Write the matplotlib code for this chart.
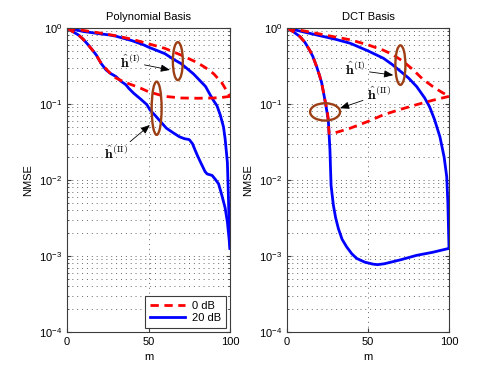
import numpy as np
import matplotlib
matplotlib.use('Agg')
import matplotlib.pyplot as plt
from matplotlib.patches import Ellipse

plt.rcParams['font.family'] = ['Liberation Sans', 'DejaVu Sans']
plt.rcParams['mathtext.fontset'] = 'cm'
plt.rcParams['font.size'] = 8

# ---- polynomial basis ----
poly_m_I0 = [0, 10, 20, 30, 40, 50, 60, 70, 80, 85, 90, 95, 100]
poly_I0 = [1.0, 0.93, 0.86, 0.79, 0.71, 0.62, 0.54, 0.44, 0.35, 0.30, 0.25, 0.19, 0.126]

poly_m_I20 = [0, 10, 20, 26, 30, 40, 47, 50, 60, 66, 70, 77.5, 80, 85, 88, 90, 92, 94, 96, 97, 98.4, 99, 99.5, 100]
poly_I20 = [1.0, 0.90, 0.84, 0.81, 0.78, 0.68, 0.60, 0.56, 0.46, 0.38, 0.34, 0.25, 0.22, 0.17,
            0.13, 0.11, 0.095, 0.072, 0.050, 0.035, 0.017, 0.0063, 0.0025, 0.00126]

poly_m_II20 = [0, 3, 7, 10, 13, 16, 18, 21, 24, 27, 30, 33, 36, 38, 41, 45, 49, 51, 54, 57, 61, 65,
               69, 72, 75, 77, 78.5, 80, 82, 84.7, 86, 89, 91, 93, 95, 97, 98.4, 99.3, 100]
poly_II20 = [1.0, 0.91, 0.81, 0.71, 0.60, 0.50, 0.44, 0.34, 0.28, 0.25, 0.23, 0.20, 0.18, 0.16,
             0.138, 0.117, 0.098, 0.083, 0.071, 0.060, 0.048, 0.042, 0.037, 0.035, 0.034, 0.030,
             0.025, 0.021, 0.017, 0.0129, 0.0120, 0.0115, 0.0102, 0.0089, 0.0063, 0.0043, 0.0028,
             0.0018, 0.00126]

poly_m_II0 = [0, 3, 7, 10, 13, 16, 18, 21, 24, 26, 30, 35, 40, 45, 50, 55, 60, 65, 70, 80, 90, 95, 100]
poly_II0 = [1.0, 0.91, 0.81, 0.71, 0.60, 0.50, 0.44, 0.34, 0.29, 0.26, 0.22, 0.195, 0.178, 0.162,
            0.145, 0.135, 0.126, 0.123, 0.120, 0.119, 0.120, 0.122, 0.126]

# ---- DCT basis ----
dct_m_I20 = [0, 10, 18.3, 30, 39, 50, 59.5, 65, 70, 75, 80, 85, 88, 91, 94.4, 97, 98.6, 99.3, 100]
dct_I20 = [1.0, 0.89, 0.81, 0.71, 0.63, 0.50, 0.40, 0.33, 0.27, 0.22, 0.17, 0.12, 0.092, 0.063,
           0.037, 0.020, 0.011, 0.0050, 0.00126]

dct_m_I0 = [0, 10, 18.3, 30, 39, 50, 59.5, 65, 72, 78, 84, 90, 95, 100]
dct_I0 = [1.0, 0.92, 0.85, 0.76, 0.70, 0.60, 0.51, 0.45, 0.36, 0.28, 0.21, 0.17, 0.145, 0.126]

dct_m_II20 = [0, 4, 8, 11, 14, 16, 18.3, 20, 21.4, 23.5, 25.5, 26.5, 27.2, 28.6, 30, 31.7, 34,
              36.8, 40, 43, 48, 53.3, 56, 60, 70, 80, 90, 100]
dct_II20 = [1.0, 0.89, 0.77, 0.65, 0.51, 0.42, 0.31, 0.24, 0.19, 0.11, 0.062, 0.025, 0.0085,
            0.0047, 0.0032, 0.0023, 0.00166, 0.00132, 0.00107, 0.00093, 0.00083, 0.00078,
            0.00077, 0.00079, 0.00089, 0.00102, 0.00112, 0.00126]

dct_m_II0 = [0, 4, 8, 11, 14, 16, 18.3, 20, 21.4, 23.5, 25, 26, 30, 39, 50, 59.5, 70, 80, 90, 100]
dct_II0 = [1.0, 0.89, 0.77, 0.65, 0.51, 0.42, 0.31, 0.24, 0.19, 0.11, 0.079, 0.041, 0.042, 0.048,
           0.059, 0.072, 0.085, 0.098, 0.112, 0.126]

titles = ['Polynomial Basis', 'DCT Basis']
legend_labels = ['0 dB', '20 dB']
lbl_I = r'$\hat{\mathbf{h}}^{(\mathrm{I})}$'
lbl_II = r'$\hat{\mathbf{h}}^{(\mathrm{II})}$'

red = '#FF0000'
blue = '#0000FF'
brown = '#9C3F14'
framec = '#3C3C3C'

fig = plt.figure(figsize=(4.98, 3.75), dpi=100)
ax1 = fig.add_axes([67/498, 1-332/375, 163/498, 304/375])
ax2 = fig.add_axes([287/498, 1-332/375, 162/498, 304/375])

def style(ax, title):
    ax.set_yscale('log')
    ax.set_xlim(0, 100)
    ax.set_ylim(1e-4, 1)
    ax.set_xticks([0, 50, 100])
    ax.set_yticks([1e-4, 1e-3, 1e-2, 1e-1, 1])
    ax.tick_params(which='both', direction='in', top=True, right=True, colors=framec,
                   labelcolor='k', labelsize=8)
    ax.tick_params(which='major', length=3)
    ax.tick_params(which='minor', length=1.5)
    ax.grid(True, which='major', axis='both', linestyle=(0, (1, 4)), color='#666666', lw=0.7)
    ax.grid(True, which='minor', axis='y', linestyle=(0, (1, 4)), color='#666666', lw=0.7)
    for s in ax.spines.values():
        s.set_color(framec)
        s.set_linewidth(0.8)
    ax.set_title(title, fontsize=8, pad=6)
    ax.set_xlabel('m', fontsize=8, labelpad=4)
    ax.set_ylabel('NMSE', fontsize=8, labelpad=4)

lw = 2.0
dash = (3, 2)
# left panel
ax1.plot(poly_m_I20, poly_I20, color=blue, lw=lw)
ax1.plot(poly_m_II20, poly_II20, color=blue, lw=lw)
ax1.plot(poly_m_I0, poly_I0, color=red, lw=lw, dashes=dash)
ax1.plot(poly_m_II0, poly_II0, color=red, lw=lw, dashes=dash)
# right panel
ax2.plot(dct_m_I20, dct_I20, color=blue, lw=lw)
ax2.plot(dct_m_II20, dct_II20, color=blue, lw=lw)
ax2.plot(dct_m_I0, dct_I0, color=red, lw=lw, dashes=dash)
ax2.plot(dct_m_II0, dct_II0, color=red, lw=lw, dashes=dash)

style(ax1, titles[0])
style(ax2, titles[1])

# legend in left panel
h0, = ax1.plot([], [], color=red, lw=lw, dashes=dash)
h20, = ax1.plot([], [], color=blue, lw=lw)
leg = ax1.legend([h0, h20], legend_labels, loc='lower right', fontsize=8, fancybox=False,
                 framealpha=1, edgecolor=framec, handlelength=3.2, borderaxespad=0.4,
                 labelspacing=0.2, handletextpad=0.6, borderpad=0.4)
leg.get_frame().set_linewidth(0.8)

arrow = dict(arrowstyle='-|>,head_length=0.55,head_width=0.22', color='k', lw=0.6,
             shrinkA=1, shrinkB=0)

# ellipses + labels, left
ax1.add_patch(Ellipse((0.68, 0.891), 0.061, 0.125, transform=ax1.transAxes,
                      fill=False, ec=brown, lw=1.7, zorder=5))
ax1.add_patch(Ellipse((0.55, 0.736), 0.061, 0.175, transform=ax1.transAxes,
                      fill=False, ec=brown, lw=1.7, zorder=5))
ax1.annotate(lbl_I, xy=(0.632, 0.862), xytext=(0.387, 0.888), xycoords='axes fraction',
             ha='center', va='center', fontsize=10, arrowprops=arrow, zorder=6)
ax1.annotate(lbl_II, xy=(0.509, 0.681), xytext=(0.298, 0.586), xycoords='axes fraction',
             ha='center', va='center', fontsize=10, arrowprops=arrow, zorder=6)

# ellipses + labels, right
ax2.add_patch(Ellipse((0.70, 0.878), 0.062, 0.13, transform=ax2.transAxes,
                      fill=False, ec=brown, lw=1.7, zorder=5))
ax2.add_patch(Ellipse((0.235, 0.724), 0.185, 0.057, transform=ax2.transAxes,
                      fill=False, ec=brown, lw=1.7, zorder=5))
ax2.annotate(lbl_I, xy=(0.656, 0.845), xytext=(0.42, 0.862), xycoords='axes fraction',
             ha='center', va='center', fontsize=10, arrowprops=arrow, zorder=6)
ax2.annotate(lbl_II, xy=(0.327, 0.736), xytext=(0.568, 0.78), xycoords='axes fraction',
             ha='center', va='center', fontsize=10, arrowprops=arrow, zorder=6)

fig.savefig('out.png', dpi=100)
